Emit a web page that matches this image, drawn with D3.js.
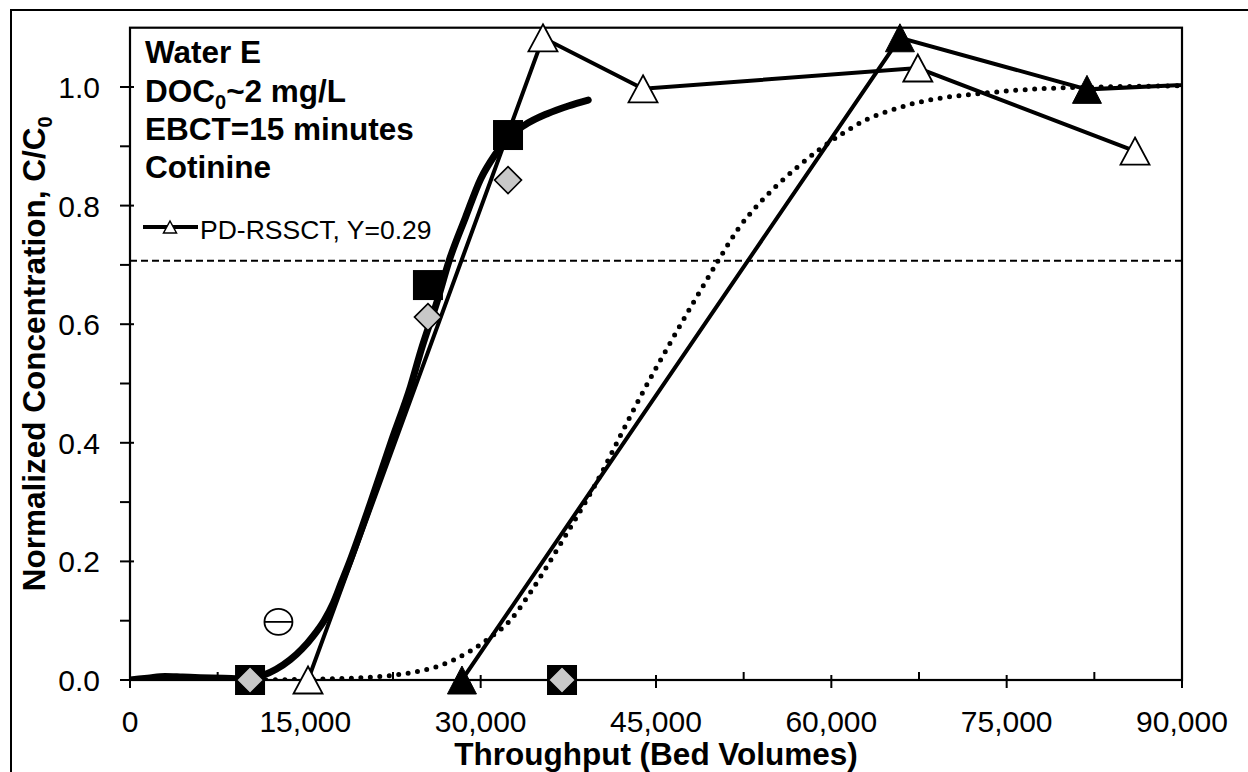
<!DOCTYPE html>
<html><head><meta charset="utf-8">
<script src="https://cdn.jsdelivr.net/npm/d3@7"></script>
<style>
body{margin:0;background:#fff}
svg{display:block}
text{font-family:"Liberation Sans",Arial,sans-serif;fill:#000}
</style>
</head><body>
<svg id="c" width="1248" height="772"></svg>
<script>
// ---------- data ----------
const xTicks = [0, 15000, 30000, 45000, 60000, 75000, 90000];
const xMinorTicks = [7500, 22500, 37500, 52500, 67500, 82500];
const yTicks = [0, 0.2, 0.4, 0.6, 0.8, 1.0];
const yMinorTicks = [0.1, 0.3, 0.5, 0.7, 0.9];
const refLevel = 0.707;

// thick model fit curve
const fitX = [0,1500,3000,4500,6000,8000,10000,11400,12500,13700,14700,15700,16600,17400,18100,18800,20600,22400,24000,24900,26300,27300,28700,30000,31200,32400,33700,35700,37500,39200];
const fitY = [0,0.003,0.006,0.005,0.004,0.003,0.002,0.008,0.018,0.034,0.052,0.075,0.1,0.13,0.165,0.2,0.3,0.405,0.495,0.556,0.64,0.707,0.78,0.845,0.885,0.915,0.935,0.955,0.968,0.978];

// dotted model curve
const dotX = [10000,15000,20000,22500,24300,26000,27700,29300,30900,32500,34000,35300,37000,38900,40500,41900,44000,46200,48300,50500,52000,53700,55400,57100,59000,61000,63000,65000,67000,69300,72700,77900,83000,90000];
const dotY = [0,0.001,0.004,0.008,0.013,0.021,0.034,0.051,0.073,0.1,0.14,0.18,0.235,0.298,0.355,0.41,0.49,0.568,0.64,0.713,0.76,0.801,0.835,0.865,0.895,0.922,0.945,0.96,0.972,0.981,0.989,0.997,1.0,1.002];

// PD-RSSCT, Y=0.29 (open triangles)
const openTriX = [15230, 35330, 43890, 67400, 85980];
const openTriY = [0, 1.083, 0.997, 1.032, 0.892];

// filled triangles
const fillTriX = [28400, 65870, 81870, 98000];
const fillTriY = [0, 1.083, 0.996, 1.011];

// filled squares
const squareX = [10270, 25490, 32340, 36960];
const squareY = [0, 0.666, 0.919, 0];

// gray diamonds
const diamondX = [10270, 25490, 32340, 36960];
const diamondY = [0, 0.612, 0.843, 0];

// theta marker
const thetaX = [12700];
const thetaY = [0.098];

// ---------- chart ----------
const svg = d3.select("#c");
const L = 130, R = 1182, T = 27.7, B = 680;
const x = d3.scaleLinear().domain([0, 90000]).range([L, R]);
const y = d3.scaleLinear().domain([0, 1.1]).range([B, T]);

svg.append("rect").attr("width",1248).attr("height",772).attr("fill","#fff");
// outer frame (right/bottom lie outside the picture)
svg.append("rect").attr("x",11).attr("y",10).attr("width",1260).attr("height",790)
  .attr("fill","none").attr("stroke","#000").attr("stroke-width",2);

svg.append("defs").append("clipPath").attr("id","clip")
  .append("rect").attr("x",L).attr("y",T).attr("width",R-L).attr("height",B-T);

// plot box
svg.append("rect").attr("x",L).attr("y",T).attr("width",R-L).attr("height",B-T)
  .attr("fill","none").attr("stroke","#000").attr("stroke-width",2.2);

// ticks
const g = svg.append("g");
g.selectAll(".xt").data(xTicks).join("line")
  .attr("x1",d=>x(d)).attr("x2",d=>x(d)).attr("y1",B-5).attr("y2",B+8)
  .attr("stroke","#000").attr("stroke-width",2);
g.selectAll(".xm").data(xMinorTicks).join("line")
  .attr("x1",d=>x(d)).attr("x2",d=>x(d)).attr("y1",B-8).attr("y2",B)
  .attr("stroke","#000").attr("stroke-width",2);
g.selectAll(".yt").data(yTicks).join("line")
  .attr("y1",d=>y(d)).attr("y2",d=>y(d)).attr("x1",L-10).attr("x2",L+4)
  .attr("stroke","#000").attr("stroke-width",2);
g.selectAll(".ym").data(yMinorTicks).join("line")
  .attr("y1",d=>y(d)).attr("y2",d=>y(d)).attr("x1",L-10).attr("x2",L)
  .attr("stroke","#000").attr("stroke-width",2);

// tick labels
const fmtX = d3.format(",");
g.selectAll(".xl").data(xTicks).join("text")
  .attr("x",d=>x(d)).attr("y",732).attr("text-anchor","middle")
  .attr("font-size",30).text(d=>fmtX(d));
g.selectAll(".yl").data(yTicks).join("text")
  .attr("x",100).attr("y",d=>y(d)+11).attr("text-anchor","end")
  .attr("font-size",30).text(d=>d.toFixed(1));

// axis titles
svg.append("text").attr("x",(L+R)/2).attr("y",765).attr("text-anchor","middle")
  .attr("font-size",31.5).attr("font-weight","bold").text("Throughput (Bed Volumes)");
const yt = svg.append("text").attr("transform",`translate(45,${(T+B)/2}) rotate(-90)`)
  .attr("text-anchor","middle").attr("font-size",31.5).attr("font-weight","bold");
yt.append("tspan").text("Normalized Concentration, C/C");
yt.append("tspan").attr("font-size",20).attr("dy",7).text("0");

// series
const plot = svg.append("g").attr("clip-path","url(#clip)");
const line = d3.line().x(d=>x(d[0])).y(d=>y(d[1]));
const smooth = d3.line().x(d=>x(d[0])).y(d=>y(d[1])).curve(d3.curveMonotoneX);

plot.append("line").attr("x1",x(0)).attr("x2",x(90000)).attr("y1",y(refLevel)).attr("y2",y(refLevel))
  .attr("stroke","#000").attr("stroke-width",2).attr("stroke-dasharray","7,4");

plot.append("path").datum(d3.zip(dotX,dotY)).attr("d",smooth)
  .attr("fill","none").attr("stroke","#000").attr("stroke-width",5)
  .attr("stroke-linecap","round").attr("stroke-dasharray","0,9.5");

plot.append("path").datum(d3.zip(fillTriX,fillTriY)).attr("d",line)
  .attr("fill","none").attr("stroke","#000").attr("stroke-width",4);
plot.append("path").datum(d3.zip(openTriX,openTriY)).attr("d",line)
  .attr("fill","none").attr("stroke","#000").attr("stroke-width",4);

plot.append("path").datum(d3.zip(fitX,fitY)).attr("d",smooth)
  .attr("fill","none").attr("stroke","#000").attr("stroke-width",7).attr("stroke-linecap","round");

// markers
const tri = (w,h)=>`M0,${-h/2}L${w/2},${h/2}L${-w/2},${h/2}Z`;
const mk = svg.append("g");
mk.selectAll(".sq").data(d3.zip(squareX,squareY)).join("rect")
  .attr("x",d=>x(d[0])-15).attr("y",d=>y(d[1])-15).attr("width",30).attr("height",30)
  .attr("fill","#000");
mk.selectAll(".dm").data(d3.zip(diamondX,diamondY)).join("path")
  .attr("transform",d=>`translate(${x(d[0])},${y(d[1])})`)
  .attr("d","M0,-13.5L13.5,0L0,13.5L-13.5,0Z")
  .attr("fill","#c8c8c8").attr("stroke","#000").attr("stroke-width",1.6);
mk.selectAll(".ot").data(d3.zip(openTriX,openTriY)).join("path")
  .attr("transform",d=>`translate(${x(d[0])},${y(d[1])})`)
  .attr("d",tri(29,27)).attr("fill","#fff").attr("stroke","#000").attr("stroke-width",1.8);
mk.selectAll(".ft").data(d3.zip(fillTriX,fillTriY).filter(d=>d[0]<=90000)).join("path")
  .attr("transform",d=>`translate(${x(d[0])},${y(d[1])})`)
  .attr("d",tri(29,28)).attr("fill","#000").attr("stroke","#000").attr("stroke-width",1);
const th = mk.selectAll(".th").data(d3.zip(thetaX,thetaY)).join("g")
  .attr("transform",d=>`translate(${x(d[0])},${y(d[1])})`);
th.append("ellipse").attr("rx",14).attr("ry",13).attr("fill","#fff").attr("stroke","#000").attr("stroke-width",1.8);
th.append("line").attr("x1",-14).attr("x2",14).attr("stroke","#000").attr("stroke-width",1.8);

// annotation text
const notes = svg.append("g").attr("font-weight","bold").attr("font-size",31.5);
notes.append("text").attr("x",145).attr("y",63).text("Water E");
const doc = notes.append("text").attr("x",145).attr("y",102);
doc.append("tspan").text("DOC");
doc.append("tspan").attr("font-size",20).attr("dy",7).text("0");
doc.append("tspan").attr("dy",-7).text("~2 mg/L");
notes.append("text").attr("x",145).attr("y",140).text("EBCT=15 minutes");
notes.append("text").attr("x",145).attr("y",178).text("Cotinine");

// legend
const lg = svg.append("g");
lg.append("line").attr("x1",143).attr("x2",198).attr("y1",227).attr("y2",227)
  .attr("stroke","#000").attr("stroke-width",4);
lg.append("path").attr("transform","translate(170,227)").attr("d",tri(13,12))
  .attr("fill","#fff").attr("stroke","#000").attr("stroke-width",1.5);
lg.append("text").attr("x",200).attr("y",239).attr("font-size",26.5).text("PD-RSSCT, Y=0.29");
</script>
</body></html>
